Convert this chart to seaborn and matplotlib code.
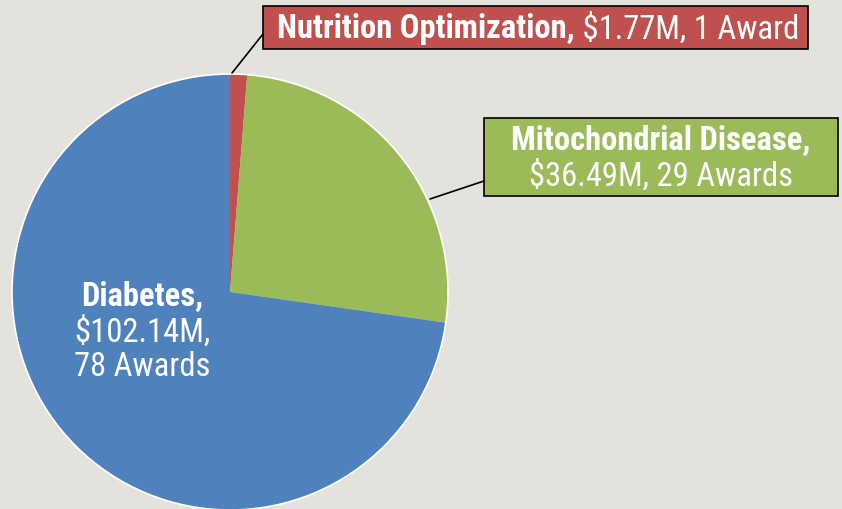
import matplotlib
matplotlib.use("Agg")
import matplotlib.pyplot as plt
import seaborn as sns
from matplotlib import font_manager
from matplotlib.patches import Rectangle, Circle

# award funding by research area (millions of dollars) and number of awards
areas = ["Nutrition Optimization", "Mitochondrial Disease", "Diabetes"]
funding = [1.77, 36.49, 102.14]
awards = [1, 29, 78]
colors = ["#C0504D", "#9BBB59", "#4F81BD"]
bg = "#E3E2DD"

sns.set_style("white")
names = {f.name for f in font_manager.fontManager.ttflist}
font = "Roboto Condensed" if "Roboto Condensed" in names else "DejaVu Sans"
plt.rcParams["font.family"] = [font, "DejaVu Sans"]

fig = plt.figure(figsize=(8.42, 5.10), dpi=100, facecolor=bg)
ax = fig.add_axes([0, 0, 1, 1])
ax.set_facecolor(bg)

cx, cy, r = 230, 217, 218
ax.pie(funding, colors=colors, startangle=90, counterclock=False,
       center=(cx, cy), radius=r, frame=True,
       wedgeprops=dict(linewidth=0))
ax.add_patch(Circle((cx, cy), r, fill=False, edgecolor="white", linewidth=1.2))
ax.set_xlim(0, 842)
ax.set_ylim(0, 510)
ax.set_aspect("equal")
ax.axis("off")

def fmt(i):
    a = "Award" if awards[i] == 1 else "Awards"
    return f"${funding[i]:.2f}M, {awards[i]} {a}"

fig.canvas.draw()
rend = fig.canvas.get_renderer()
fs = 23.5

def two_part(x, y, bold, regular, size):
    t = ax.text(x, y, bold, fontsize=size, fontweight="bold", color="white",
                ha="left", va="center")
    bb = t.get_window_extent(renderer=rend)
    x2 = ax.transData.inverted().transform((bb.x1, bb.y0))[0]
    ax.text(x2, y, " " + regular, fontsize=size, color="white",
            ha="left", va="center")

# Nutrition Optimization callout
ax.add_patch(Rectangle((263, 510 - 50), 545, 43, facecolor=colors[0],
                       edgecolor="black", linewidth=1.2))
ax.plot([263, 232], [510 - 35, 510 - 74], color="black", linewidth=1.2)
two_part(277, 510 - 29, areas[0] + ",", fmt(0), fs)

# Mitochondrial Disease callout
ax.add_patch(Rectangle((484, 510 - 197), 354, 78, facecolor=colors[1],
                       edgecolor="black", linewidth=1.2))
ax.plot([484, 430], [510 - 182, 510 - 200], color="black", linewidth=1.2)
ax.text(661, 510 - 141, areas[1] + ",", fontsize=fs, fontweight="bold",
        color="white", ha="center", va="center")
ax.text(661, 510 - 176, fmt(1), fontsize=fs, color="white",
        ha="center", va="center")

# Diabetes label inside the slice
ax.text(142, 510 - 297, areas[2] + ",", fontsize=fs, fontweight="bold",
        color="white", ha="center", va="center")
ax.text(142, 510 - 332, f"${funding[2]:.2f}M,", fontsize=fs, color="white",
        ha="center", va="center")
ax.text(142, 510 - 367, f"{awards[2]} Awards", fontsize=fs, color="white",
        ha="center", va="center")

fig.savefig("out.png", dpi=100, facecolor=bg)
